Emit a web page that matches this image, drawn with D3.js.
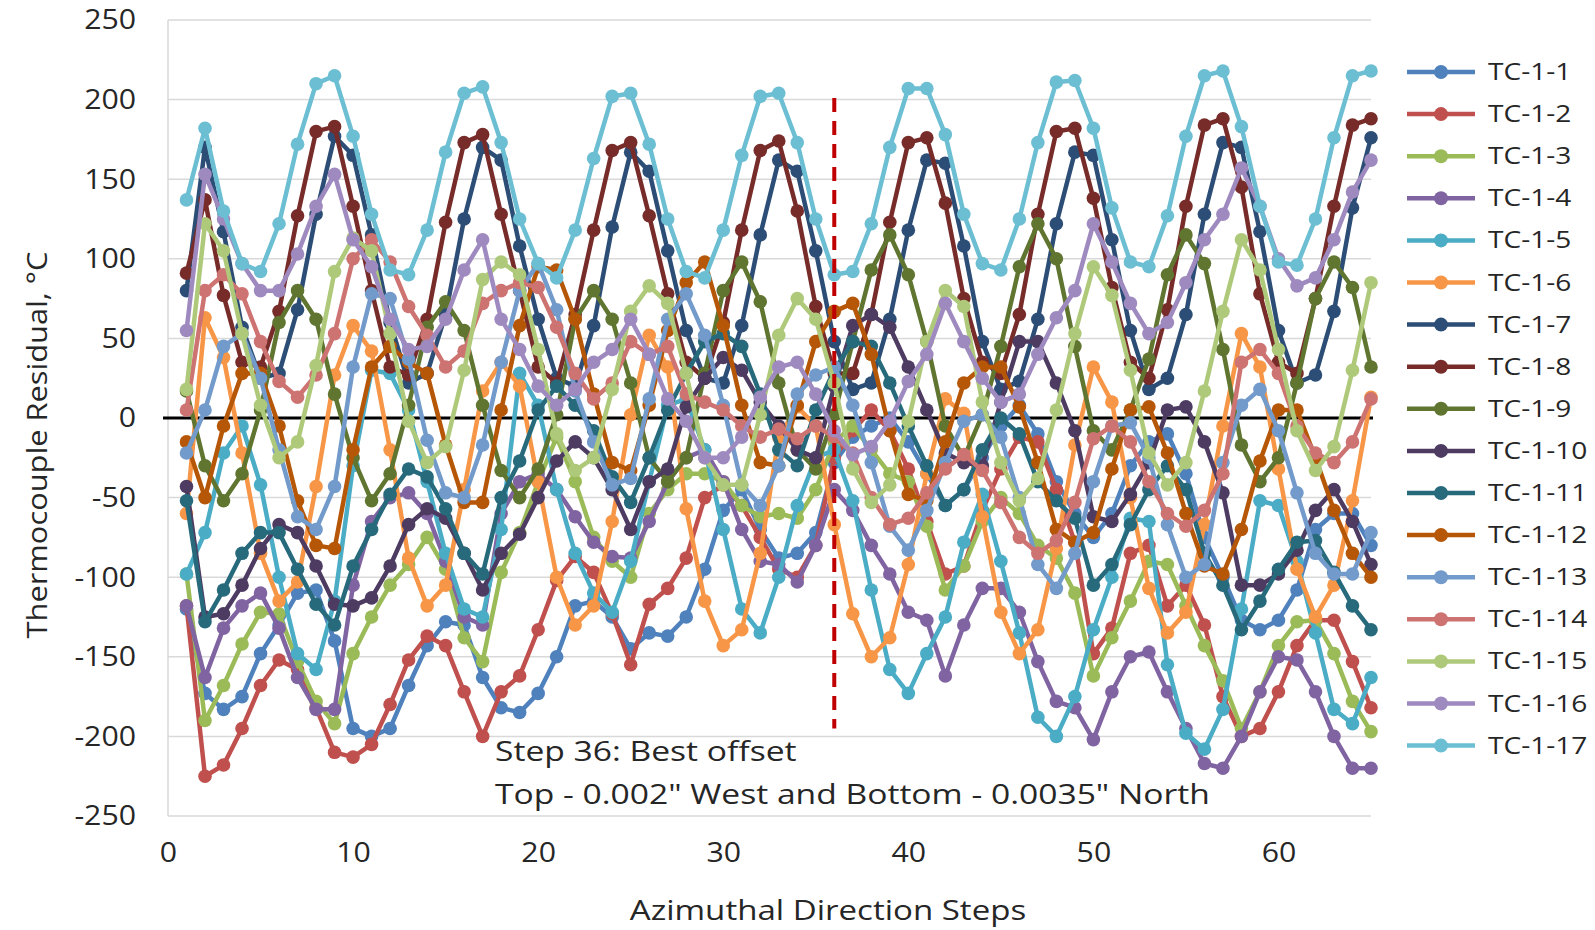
<!DOCTYPE html>
<html>
<head>
  <meta charset="utf-8">
  <title>Thermocouple Residual</title>
  <script src="https://cdn.jsdelivr.net/npm/d3@7"></script>
  <style>
    body { margin: 0; background: #fff; }
    text { font-family: "Open Sans", sans-serif; fill: #262626; }
  </style>
</head>
<body>
<script>
  // series values, steps 1..65
  var tc1 = [-120,-173,-183,-175,-148,-130,-110,-108,-140,-195, -200,-195,-168,-143,-128,-130,-163,-182,-185,-173, -150,-118,-115,-125,-145,-135,-137,-125,-95,-58, -45,-70,-88,-85,-72,-28,-12,-5,0,-15, -35,-55,-45,-25,-5,8,-10,-40,-60,-75, -60,-30,-15,-10,-35,-75,-100,-127,-133,-127, -108,-70,-60,-60,-80];
  var tc2 = [-118,-225,-218,-195,-168,-152,-158,-182,-210,-213, -205,-180,-152,-137,-143,-172,-200,-172,-162,-133, -102,-87,-97,-123,-155,-117,-107,-88,-50,-42, -55,-75,-95,-100,-80,-25,-8,5,-8,-32, -65,-98,-93,-58,-32,-12,-15,-45,-78,-148, -132,-85,-80,-118,-105,-130,-175,-200,-195,-172, -143,-127,-127,-153,-182];
  var tc3 = [-98,-190,-168,-142,-122,-123,-153,-178,-192,-148, -125,-105,-92,-75,-95,-138,-153,-97,-72,-40, -12,-40,-75,-90,-100,-60,-45,-35,-35,-40, -55,-62,-60,-63,-45,-15,-5,-20,-35,-40, -68,-108,-93,-65,-50,-60,-80,-88,-110,-162, -138,-115,-90,-92,-118,-143,-165,-195,-172,-143, -128,-127,-148,-178,-197];
  var tc4 = [-118,-163,-132,-118,-110,-132,-163,-183,-183,-105, -65,-50,-47,-60,-90,-125,-130,-60,-40,-35, -45,-62,-78,-87,-88,-65,-40,-25,-20,-40, -70,-90,-92,-103,-80,-45,-58,-80,-98,-122, -127,-162,-130,-107,-107,-122,-153,-178,-182,-202, -172,-150,-147,-172,-195,-217,-220,-200,-172,-150, -152,-172,-200,-220,-220];
  var tc5 = [-98,-72,-22,-5,-42,-100,-148,-158,-115,-30, 30,28,5,-40,-85,-120,-125,-70,28,8, -45,-85,-110,-122,-90,-40,8,12,-20,-70, -120,-135,-100,-55,-25,-20,-52,-108,-158,-173, -148,-125,-78,-48,-90,-135,-188,-200,-175,-133, -100,-63,-65,-155,-198,-208,-183,-120,-52,-55, -90,-135,-183,-192,-163];
  var tc6 = [-60,63,38,-22,-85,-115,-103,-43,27,58, 42,-20,-88,-118,-105,-45,17,35,20,-40, -100,-130,-118,-65,2,52,32,-57,-115,-143, -133,-85,-12,7,-5,-67,-123,-150,-138,-92, -35,12,3,-62,-122,-148,-133,-82,-17,32, 10,-50,-107,-135,-122,-67,-5,53,32,-32, -95,-125,-105,-52,13];
  var tc7 = [80,170,117,57,25,28,68,128,177,165, 115,60,22,28,65,125,170,162,108,62, 25,20,58,120,167,155,105,55,25,22, 58,115,162,155,105,48,18,22,62,118, 162,160,108,48,18,23,62,122,167,165, 112,55,18,25,65,128,173,170,117,55, 22,27,67,132,176];
  var tc8 = [91,137,77,35,32,67,127,180,183,133, 80,32,27,62,123,173,178,128,80,32, 22,65,118,168,173,127,78,35,25,60, 118,168,174,130,70,28,28,65,123,173, 176,135,75,35,28,65,128,180,182,138, 82,35,25,68,133,184,188,145,78,35, 28,75,133,184,188];
  var tc9 = [17,-30,-52,-35,5,60,80,62,15,-25, -52,-35,8,57,73,55,8,-33,-50,-32, 2,62,80,62,22,-25,-40,-25,28,80, 98,73,22,-20,-32,2,48,93,115,90, 48,-5,-25,2,45,95,122,100,45,-8, -20,5,37,90,115,97,43,-17,-40,-25, 22,75,98,82,32];
  var tc10 = [-43,-125,-123,-105,-82,-67,-72,-93,-117,-118, -113,-93,-67,-57,-63,-85,-108,-85,-73,-50, -27,-15,-25,-45,-70,-40,-32,7,25,38, 30,10,-5,-20,-25,20,58,65,57,32, 5,-22,-28,-30,10,48,48,22,-8,-62, -65,-48,-28,5,7,-15,-47,-105,-105,-98, -83,-58,-45,-65,-92];
  var tc11 = [-52,-128,-108,-85,-72,-72,-95,-117,-130,-93, -70,-48,-32,-37,-57,-85,-98,-50,-27,5, 20,8,-8,-37,-53,-25,5,28,48,53, 45,15,-20,-30,5,30,48,45,22,-5, -30,-55,-45,-20,0,-10,-40,-52,-63,-105, -92,-67,-45,-30,-45,-85,-105,-133,-115,-95, -78,-77,-97,-118,-133];
  var tc12 = [-15,-50,-5,28,28,-5,-52,-80,-82,-20, 32,45,35,28,-17,-53,-53,5,58,95, 93,62,15,-28,-33,8,55,85,98,58, 8,-28,-30,8,48,67,72,40,-8,-48, -52,-15,22,32,32,7,-28,-70,-78,-72, -32,5,7,-22,-60,-93,-98,-70,-27,5, 5,-25,-58,-85,-100];
  var tc13 = [-22,5,45,53,25,-20,-62,-70,-43,32, 78,75,37,-14,-47,-50,-17,35,80,97, 68,17,-15,-42,-38,12,62,78,52,8, -42,-55,-30,15,27,32,8,-28,-68,-83, -58,-28,-2,2,-12,-50,-92,-107,-85,-40, -5,-3,-25,-67,-100,-92,-28,8,18,-8, -47,-85,-98,-98,-72];
  var tc14 = [5,80,90,78,48,23,13,27,53,100, 112,98,70,52,32,42,72,80,85,82, 57,28,12,22,48,40,45,15,10,5, -5,-12,-7,-13,-5,-12,-22,-50,-67,-63, -47,-32,-23,-33,-53,-75,-85,-77,-53,-13, -5,-15,-40,-60,-68,-58,-35,35,43,28, -5,-22,-28,-15,12];
  var tc15 = [18,122,105,53,8,-25,-15,33,92,113, 105,53,-2,-28,-18,30,87,98,90,43, -10,-33,-25,18,67,83,72,28,-25,-42, -42,2,52,75,62,22,-32,-53,-42,-2, 48,80,70,10,-28,-52,-38,5,53,95, 77,30,-22,-42,-28,17,67,112,93,43, -8,-33,-18,30,85];
  var tc16 = [55,153,125,97,80,80,103,133,153,112, 95,62,43,45,62,93,112,62,43,20, 8,18,35,43,62,40,12,-2,-25,-25, -12,13,32,35,15,-8,-23,-18,-2,23, 40,72,48,25,10,15,40,63,80,122, 98,72,53,60,85,112,128,157,133,100, 83,88,112,142,162];
  var tc17 = [137,182,130,97,92,122,172,210,215,177, 128,93,90,118,167,204,208,173,125,97, 88,118,163,202,204,172,125,92,88,118, 165,202,204,173,125,90,92,122,170,207, 207,178,128,97,93,125,173,211,212,182, 132,98,95,127,177,215,218,183,133,98, 96,125,176,215,218];

  var names = ["TC-1-1","TC-1-2","TC-1-3","TC-1-4","TC-1-5","TC-1-6","TC-1-7","TC-1-8","TC-1-9",
               "TC-1-10","TC-1-11","TC-1-12","TC-1-13","TC-1-14","TC-1-15","TC-1-16","TC-1-17"];
  var colors = ["#4F81BD","#C0504D","#9BBB59","#8064A2","#4BACC6","#F79646","#2C4D75","#772C2A","#5F7530",
                "#4D3B62","#276A7C","#B65708","#729ACA","#CD7371","#AFC97A","#9F8AC0","#6CBED3"];
  var series = [tc1,tc2,tc3,tc4,tc5,tc6,tc7,tc8,tc9,tc10,tc11,tc12,tc13,tc14,tc15,tc16,tc17];

  var yTicks = [-250,-200,-150,-100,-50,0,50,100,150,200,250];
  var xTicks = [0,10,20,30,40,50,60];
  var bestStep = 36;

  var width = 1595, height = 930;

  var svg = d3.select("body").append("svg")
    .attr("width", width)
    .attr("height", height);

  var x = d3.scaleLinear().domain([0, 65]).range([168, 1371]);
  var y = d3.scaleLinear().domain([-250, 250]).range([816, 20]);

  // the source font runs wider than Open Sans, so stretch text a bit
  function widen(sel, f) {
    sel.each(function() {
      var w = this.getComputedTextLength();
      d3.select(this).attr("textLength", w * f).attr("lengthAdjust", "spacingAndGlyphs");
    });
  }

  // gridlines
  svg.append("g").selectAll("line")
    .data(yTicks)
    .enter().append("line")
    .attr("x1", x(0)).attr("x2", x(65))
    .attr("y1", function(d) { return y(d); })
    .attr("y2", function(d) { return y(d); })
    .attr("stroke", "#D9D9D9").attr("stroke-width", 1.5);

  svg.append("line")
    .attr("x1", x(0)).attr("x2", x(0))
    .attr("y1", y(250)).attr("y2", y(-250))
    .attr("stroke", "#D9D9D9").attr("stroke-width", 1.5);

  // axes
  var yAxis = svg.append("g")
    .attr("transform", "translate(" + x(0) + ",0)")
    .call(d3.axisLeft(y).tickValues(yTicks).tickSize(0).tickPadding(32)
      .tickFormat(function(d) { return String(d); }));
  yAxis.select(".domain").remove();
  yAxis.selectAll("text").style("font-size", "28px").attr("fill", "#262626");
  widen(yAxis.selectAll("text"), 1.08);

  var xAxis = svg.append("g")
    .attr("transform", "translate(0," + y(-250) + ")")
    .call(d3.axisBottom(x).tickValues(xTicks).tickSize(0).tickPadding(26)
      .tickFormat(function(d) { return String(d); }));
  xAxis.select(".domain").remove();
  xAxis.selectAll("text").style("font-size", "28px").attr("fill", "#262626");
  widen(xAxis.selectAll("text"), 1.08);

  // zero line
  svg.append("line")
    .attr("x1", x(0) - 5).attr("x2", x(65) + 2)
    .attr("y1", y(0)).attr("y2", y(0))
    .attr("stroke", "#000").attr("stroke-width", 3);

  // series
  var line = d3.line()
    .x(function(d, i) { return x(i + 1); })
    .y(function(d) { return y(d); });

  series.forEach(function(vals, k) {
    var g = svg.append("g");
    g.append("path")
      .datum(vals)
      .attr("d", line)
      .attr("fill", "none")
      .attr("stroke", colors[k])
      .attr("stroke-width", 4.5)
      .attr("stroke-linejoin", "round");
    g.selectAll("circle")
      .data(vals)
      .enter().append("circle")
      .attr("cx", function(d, i) { return x(i + 1); })
      .attr("cy", function(d) { return y(d); })
      .attr("r", 6.8)
      .attr("fill", colors[k]);
  });

  // best offset marker
  svg.append("line")
    .attr("x1", x(bestStep)).attr("x2", x(bestStep))
    .attr("y1", y(201)).attr("y2", y(-195))
    .attr("stroke", "#C00000").attr("stroke-width", 4)
    .attr("stroke-dasharray", "14,9");

  var note1 = svg.append("text")
    .attr("x", 495).attr("y", 761)
    .style("font-size", "28px")
    .text("Step 36: Best offset");
  var note2 = svg.append("text")
    .attr("x", 495).attr("y", 804)
    .style("font-size", "28px")
    .text("Top - 0.002\" West and Bottom - 0.0035\" North");
  widen(note1, 1.2);
  widen(note2, 1.2);

  // axis titles
  var xTitle = svg.append("text")
    .attr("x", 828).attr("y", 920)
    .attr("text-anchor", "middle")
    .style("font-size", "28px")
    .text("Azimuthal Direction Steps");
  widen(xTitle, 1.18);

  var yTitle = svg.append("text")
    .attr("transform", "translate(47,445) rotate(-90)")
    .attr("text-anchor", "middle")
    .style("font-size", "28px")
    .text("Thermocouple Residual, °C");
  widen(yTitle, 1.1);

  // legend
  var legend = svg.append("g").attr("transform", "translate(1407,72)");
  var item = legend.selectAll("g")
    .data(names)
    .enter().append("g")
    .attr("transform", function(d, i) { return "translate(0," + (i * 42.1) + ")"; });
  item.append("line")
    .attr("x1", 0).attr("x2", 68)
    .attr("stroke", function(d, i) { return colors[i]; })
    .attr("stroke-width", 4.5);
  item.append("circle")
    .attr("cx", 34).attr("r", 7)
    .attr("fill", function(d, i) { return colors[i]; });
  var legendText = item.append("text")
    .attr("x", 81).attr("dy", "0.35em")
    .style("font-size", "23px")
    .text(function(d) { return d; });
  widen(legendText, 1.22);
</script>
</body>
</html>
